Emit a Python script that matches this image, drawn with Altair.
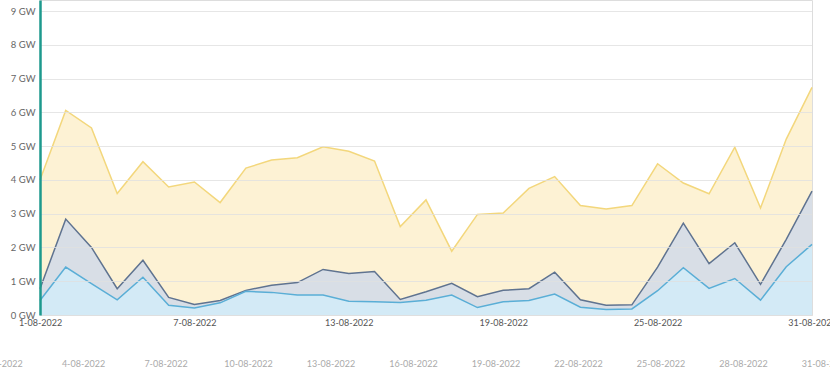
import altair as alt
import pandas as pd

# Day of month (August 2022)
days = list(range(1, 32))
series_names = ["Totaal", "Midden", "Laag"]

top_vals = [4.0, 6.06, 5.54, 3.6, 4.54, 3.79, 3.94, 3.33, 4.35, 4.59, 4.66, 4.98, 4.85, 4.56, 2.62, 3.41,
            1.89, 2.98, 3.02, 3.75, 4.1, 3.24, 3.14, 3.24, 4.48, 3.91, 3.59, 4.97, 3.17, 5.21, 6.74]
mid_vals = [0.78, 2.84, 2.0, 0.78, 1.62, 0.52, 0.31, 0.43, 0.73, 0.88, 0.96, 1.35, 1.23, 1.29, 0.46, 0.69,
            0.94, 0.54, 0.73, 0.78, 1.27, 0.45, 0.29, 0.3, 1.42, 2.72, 1.52, 2.14, 0.91, 2.24, 3.67]
low_vals = [0.43, 1.42, 0.93, 0.45, 1.12, 0.29, 0.21, 0.36, 0.7, 0.67, 0.59, 0.59, 0.41, 0.39, 0.37, 0.44,
            0.59, 0.22, 0.39, 0.43, 0.62, 0.23, 0.16, 0.18, 0.72, 1.40, 0.79, 1.08, 0.44, 1.43, 2.09]

main_ticks = [1, 7, 13, 19, 25, 31]
nav_ticks = [1, 4, 7, 10, 13, 16, 19, 22, 25, 28, 31]
y_ticks = [0, 1, 2, 3, 4, 5, 6, 7, 8, 9]

rows = []
for name, vals in zip(series_names, [top_vals, mid_vals, low_vals]):
    for d, v in zip(days, vals):
        rows.append({"day": d, "value": v, "series": name})
df = pd.DataFrame(rows)

FONT = "Lato"

xscale = alt.Scale(domain=[1, 31], nice=False, zero=False)
yscale = alt.Scale(domain=[0, 9.33], nice=False, zero=True)

x_axis = alt.Axis(values=main_ticks, labelExpr="datum.value + '-08-2022'",
                  grid=False, domain=False, ticks=False, labelPadding=3,
                  labelFontSize=9, labelColor="#555555", labelFont=FONT,
                  orient="bottom", labelFlush=False, labelOverlap=False)
y_axis = alt.Axis(values=y_ticks, labelExpr="datum.value + ' GW'",
                  grid=True, gridColor="#e0e0e0", gridWidth=1, gridOpacity=0.8,
                  domain=True, domainColor="#1d998d", domainWidth=2.5,
                  ticks=False, labelPadding=5, labelFontSize=9.5,
                  labelColor="#666666", labelFont=FONT, labelOverlap=False,
                  zindex=1)

styles = {
    "Totaal": ("#fdf1cf", "#f3d77c"),
    "Midden": ("#d4dbe8", "#5f7390"),
    "Laag": ("#d3ebf7", "#5aaed6"),
}

layers = []
for name in series_names:
    fill, line = styles[name]
    layers.append(
        alt.Chart(df).transform_filter(alt.datum.series == name)
        .mark_area(color=fill, opacity=0.9,
                   line={"color": line, "strokeWidth": 1.5})
        .encode(x=alt.X("day:Q", scale=xscale, title=None, axis=x_axis),
                y=alt.Y("value:Q", scale=yscale, title=None, axis=y_axis))
    )

main = alt.layer(*layers)

nav = alt.Chart(pd.DataFrame({"day": nav_ticks})).mark_point(opacity=0).encode(
    x=alt.X("day:Q", title=None,
            scale=alt.Scale(domain=[1, 31], range=[-39.5, 785.5], nice=False, zero=False),
            axis=alt.Axis(values=nav_ticks, labelExpr="datum.value + '-08-2022'",
                          grid=False, domain=False, ticks=False, offset=42, labelPadding=2,
                          labelFontSize=9, labelColor="#aaaaaa", labelFont=FONT,
                          orient="bottom", labelFlush=False, labelOverlap=False))
)

chart = alt.layer(main, nav).resolve_scale(x="independent").resolve_axis(x="independent").properties(
    width=772, height=315,
    autosize=alt.AutoSizeParams(type="none"),
    padding={"left": 40, "right": 18, "top": 0, "bottom": 62},
).configure_view(stroke=None).configure(font=FONT)

chart.save("out.html", embed_options={"renderer": "svg", "actions": False})
